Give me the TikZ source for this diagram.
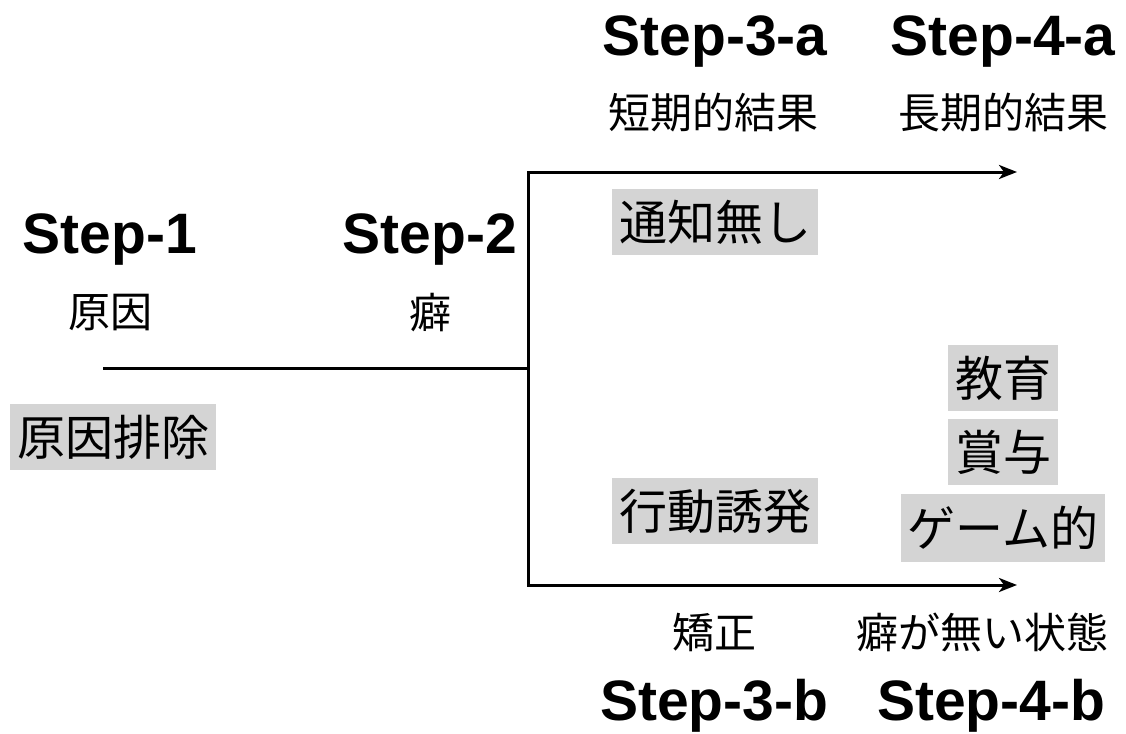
\documentclass[tikz,border=0pt]{standalone}
\usepackage{fontspec}
\setmainfont{Liberation Sans}
\newfontfamily\jp{Noto Sans CJK JP}
\usetikzlibrary{arrows.meta}
\definecolor{boxgray}{RGB}{212,212,212}
\begin{document}
\begin{tikzpicture}[x=1pt,y=-1pt,
  steplbl/.style={font=\fontsize{57}{64}\selectfont\bfseries, inner sep=0},
  sublbl/.style={font=\jp\fontsize{42}{48}\selectfont, inner sep=0},
  graybox/.style={fill=boxgray, font=\jp\fontsize{48}{54}\selectfont, inner sep=0, minimum height=66pt},
  conn/.style={line width=3pt},
  tip/.tip={Stealth[length=18pt,width=14pt,inset=5pt]}]
\useasboundingbox (0,0) rectangle (1126,733);
% step labels
\node[steplbl] (s1) at (110,240) {Step-1};
\node[steplbl] (s2) at (430,240) {Step-2};
\node[steplbl] (s3a) at (715,42) {Step-3-a};
\node[steplbl] (s4a) at (1003,42) {Step-4-a};
\node[steplbl] (s3b) at (714,706) {Step-3-b};
\node[steplbl] (s4b) at (991,706) {Step-4-b};
% sub labels
\node[sublbl] (l1) at (110,313) {原因};
\node[sublbl] (l2) at (430,313) {癖};
\node[sublbl] (l3a) at (713,113) {短期的結果};
\node[sublbl] (l4a) at (1003,113) {長期的結果};
\node[sublbl] (l3b) at (714,632) {矯正};
\node[sublbl] (l4b) at (982,632) {癖が無い状態};
% gray boxes
\node[graybox, minimum width=206pt] (b1) at (113,437) {原因排除};
\node[graybox, minimum width=206pt] (b3a) at (715,222) {通知無し};
\node[graybox, minimum width=206pt] (b3b) at (715,511) {行動誘発};
\node[graybox, minimum width=110pt] (b4x) at (1003,378) {教育};
\node[graybox, minimum width=110pt] (b4y) at (1003,452) {賞与};
\node[graybox, minimum width=204pt, minimum height=68pt] (b4z) at (1003,528) {ゲーム的};
% connectors
\coordinate (start) at (103,368);
\coordinate (junction) at (528,368);
\coordinate (topcorner) at (528,172);
\coordinate (botcorner) at (528,585);
\coordinate (topend) at (1017,172);
\coordinate (botend) at (1017,585);
\draw[conn] (start) -- (junction);
\draw[conn, tip-tip] (topend) -- (topcorner) -- (botcorner) -- (botend);
\end{tikzpicture}
\end{document}
